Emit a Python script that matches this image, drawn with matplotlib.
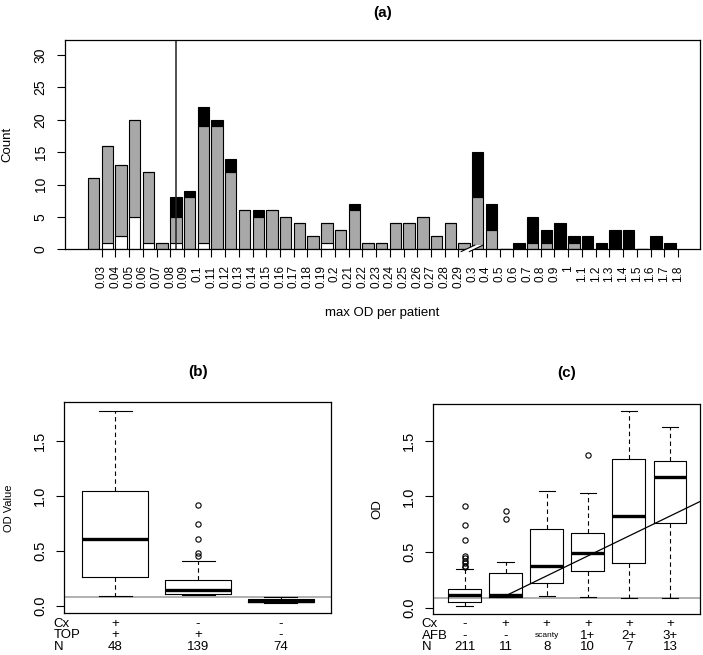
import matplotlib.pyplot as plt
from matplotlib.patches import Polygon
import numpy as np

plt.rcParams['font.family'] = ['Liberation Sans', 'DejaVu Sans']

# ---------------- panel (a) data : count of patients per max OD ----------------
od_labels = ["0.03", "0.04", "0.05", "0.06", "0.07", "0.08", "0.09", "0.1", "0.11",
             "0.12", "0.13", "0.14", "0.15", "0.16", "0.17", "0.18", "0.19", "0.2",
             "0.21", "0.22", "0.23", "0.24", "0.25", "0.26", "0.27", "0.28", "0.29",
             "0.3", "0.4", "0.5", "0.6", "0.7", "0.8", "0.9", "1", "1.1", "1.2", "1.3",
             "1.4", "1.5", "1.6", "1.7", "1.8"]
white_counts = [0, 1, 2, 5, 1, 0, 1, 0, 1, 0, 0, 0, 0, 0, 0, 0, 0, 1, 0, 0, 0, 0,
                0, 0, 0, 0, 0, 0, 0, 0, 0, 0, 0, 0, 0, 0, 0, 0, 0, 0, 0, 0, 0]
grey_counts = [11, 15, 11, 15, 11, 1, 4, 8, 18, 19, 12, 6, 5, 6, 5, 4, 2, 3, 3, 6, 1, 1,
               4, 4, 5, 2, 4, 1, 8, 3, 0, 0, 1, 1, 0, 1, 0, 0, 0, 0, 0, 0, 0]
black_counts = [0, 0, 0, 0, 0, 0, 3, 1, 3, 1, 2, 0, 1, 0, 0, 0, 0, 0, 0, 1, 0, 0,
                0, 0, 0, 0, 0, 0, 7, 4, 0, 1, 4, 2, 4, 1, 2, 1, 3, 3, 0, 2, 1]
cutoff_label = "0.09"
break_label = "0.3"

# ---------------- panel (b) data : OD by Cx / TOP ----------------
b_cx = ["+", "-", "-"]
b_top = ["+", "+", "-"]
b_n = [48, 139, 74]
b_whislo = [0.094, 0.100, 0.025]
b_q1 = [0.263, 0.110, 0.032]
b_med = [0.611, 0.145, 0.045]
b_q3 = [1.046, 0.233, 0.062]
b_whishi = [1.767, 0.408, 0.077]
b_fliers = [[], [0.919, 0.747, 0.611, 0.478, 0.454], []]

# ---------------- panel (c) data : OD by Cx / AFB ----------------
c_cx = ["-", "+", "+", "+", "+", "+"]
c_afb = ["-", "-", "scanty", "1+", "2+", "3+"]
c_n = [211, 11, 8, 10, 7, 13]
c_whislo = [0.018, 0.099, 0.105, 0.096, 0.085, 0.085]
c_q1 = [0.054, 0.099, 0.225, 0.333, 0.406, 0.764]
c_med = [0.112, 0.118, 0.377, 0.489, 0.826, 1.175]
c_q3 = [0.165, 0.309, 0.704, 0.674, 1.333, 1.315]
c_whishi = [0.345, 0.413, 1.048, 1.030, 1.770, 1.627]
c_fliers = [[0.914, 0.743, 0.606, 0.464, 0.444, 0.422, 0.399, 0.377, 0.363],
            [0.869, 0.797], [], [1.369], [], []]
trend_start = 2
trend_intercept = 0.107
trend_slope = 0.179

od_cutoff = 0.083

GREY = "#a8a8a8"

fig = plt.figure(figsize=(7.03, 6.55), dpi=100)

# ==========================================
# (a) stacked bars
# ==========================================
ax_a = fig.add_axes([0.0925, 0.6194, 0.9033, 0.3195])
x = np.arange(1, len(od_labels) + 1)
w = np.array(white_counts)
g = np.array(grey_counts)
k = np.array(black_counts)
bw = 0.83
ax_a.bar(x, w, width=bw, color="white", edgecolor="black", linewidth=0.8)
ax_a.bar(x, g, width=bw, bottom=w, color=GREY, edgecolor="black", linewidth=0.8)
ax_a.bar(x, k, width=bw, bottom=w + g, color="black", edgecolor="black", linewidth=0.8)

ax_a.axvline(od_labels.index(cutoff_label) + 1, color="#222222", linewidth=1.1)

ax_a.set_xlim(-1.08, 45.2)
ax_a.set_ylim(0, 32.3)
ax_a.set_xticks(x + 0.59)
ax_a.set_xticklabels(od_labels, rotation=90, fontsize=8.5)
ax_a.set_yticks(np.arange(0, 31, 5))
ax_a.tick_params(axis="x", length=6, width=0.8, pad=5.5)
ax_a.tick_params(axis="y", length=6, width=0.8, pad=6.5, labelsize=10, labelrotation=90)
for lab in ax_a.get_yticklabels():
    lab.set_va("center")
ax_a.set_ylabel("Count", fontsize=9.5)
ax_a.yaxis.set_label_coords(-0.081, 0.5)
ax_a.set_xlabel("max OD per patient", fontsize=9.5)
ax_a.xaxis.set_label_coords(0.5, -0.275)
ax_a.text(0.5, 1.13, "(a)", transform=ax_a.transAxes, ha="center", va="center",
          fontsize=11, fontweight="bold")

# axis break mark
c = od_labels.index(break_label) + 1 + 0.59
brk = Polygon([(c - 0.8, -0.35), (c + 0.2, 0.65), (c + 0.8, 0.65), (c - 0.2, -0.35)],
              closed=True, facecolor="white", edgecolor="none", clip_on=False, zorder=5)
ax_a.add_patch(brk)
ax_a.plot([c - 0.8, c + 0.2], [-0.35, 0.65], color="black", lw=0.8, clip_on=False, zorder=6)
ax_a.plot([c - 0.2, c + 0.8], [-0.35, 0.65], color="black", lw=0.8, clip_on=False, zorder=6)

for sp in ax_a.spines.values():
    sp.set_linewidth(0.9)


# ==========================================
# (b) and (c) boxplots
# ==========================================
def draw_box(ax, lo, q1, med, q3, hi, fl):
    stats = [dict(whislo=a, q1=b, med=m, q3=d, whishi=e, fliers=f)
             for a, b, m, d, e, f in zip(lo, q1, med, q3, hi, fl)]
    pos = np.arange(1, len(stats) + 1)
    ax.bxp(stats, positions=pos, widths=0.8, capwidths=0.4, manage_ticks=False,
           boxprops=dict(color="black", linewidth=0.8),
           medianprops=dict(color="black", linewidth=2.4, solid_capstyle="butt"),
           whiskerprops=dict(color="black", linewidth=0.8, linestyle=(0, (4, 3))),
           capprops=dict(color="black", linewidth=0.8),
           flierprops=dict(marker="o", markerfacecolor="none", markeredgecolor="black",
                           markersize=3.8, markeredgewidth=0.8))
    ax.axhline(od_cutoff, color="#aaaaaa", linewidth=1.3, zorder=0.5)
    ax.set_xticks([])
    ax.set_yticks([0.0, 0.5, 1.0, 1.5])
    ax.set_yticklabels(["0.0", "0.5", "1.0", "1.5"])
    ax.tick_params(axis="y", length=5.5, width=0.8, pad=7, labelsize=10.5, labelrotation=90)
    for lab in ax.get_yticklabels():
        lab.set_va("center")
    for sp in ax.spines.values():
        sp.set_linewidth(0.9)
    return pos


def draw_rows(ax, pos, names, rows, xname):
    tr = ax.get_xaxis_transform()
    ys = [-0.049, -0.104, -0.159]
    for y, name, row in zip(ys, names, rows):
        ax.text(xname, y, name, transform=ax.transAxes, ha="left", va="center", fontsize=9.5)
        for p, v in zip(pos, row):
            fs = 6 if v == "scanty" else 9.5
            ax.text(p, y, str(v), transform=tr, ha="center", va="center", fontsize=fs)


ax_b = fig.add_axes([0.0915, 0.0634, 0.3794, 0.3224])
pos_b = draw_box(ax_b, b_whislo, b_q1, b_med, b_q3, b_whishi, b_fliers)
ax_b.set_xlim(0.38, 3.612)
ax_b.set_ylim(-0.068, 1.8485)
ax_b.set_ylabel("OD Value", fontsize=8)
ax_b.yaxis.set_label_coords(-0.19, 0.5)
ax_b.text(0.5, 1.145, "(b)", transform=ax_b.transAxes, ha="center", va="center",
          fontsize=11, fontweight="bold")
draw_rows(ax_b, pos_b, ["Cx", "TOP", "N"], [b_cx, b_top, b_n], -0.041)

ax_c = fig.add_axes([0.6164, 0.0626, 0.3799, 0.3202])
pos_c = draw_box(ax_c, c_whislo, c_q1, c_med, c_q3, c_whishi, c_fliers)
ax_c.set_xlim(0.24, 6.74)
ax_c.set_ylim(-0.0566, 1.8275)
tx = np.linspace(trend_start, 6.74, 20)
ax_c.plot(tx, trend_intercept + trend_slope * (tx - trend_start), color="black", lw=0.9)
ax_c.set_ylabel("OD", fontsize=9.5)
ax_c.yaxis.set_label_coords(-0.187, 0.5)
ax_c.text(0.5, 1.149, "(c)", transform=ax_c.transAxes, ha="center", va="center",
          fontsize=11, fontweight="bold")
draw_rows(ax_c, pos_c, ["Cx", "AFB", "N"], [c_cx, c_afb, c_n], -0.043)

fig.savefig("out.png", dpi=100)
